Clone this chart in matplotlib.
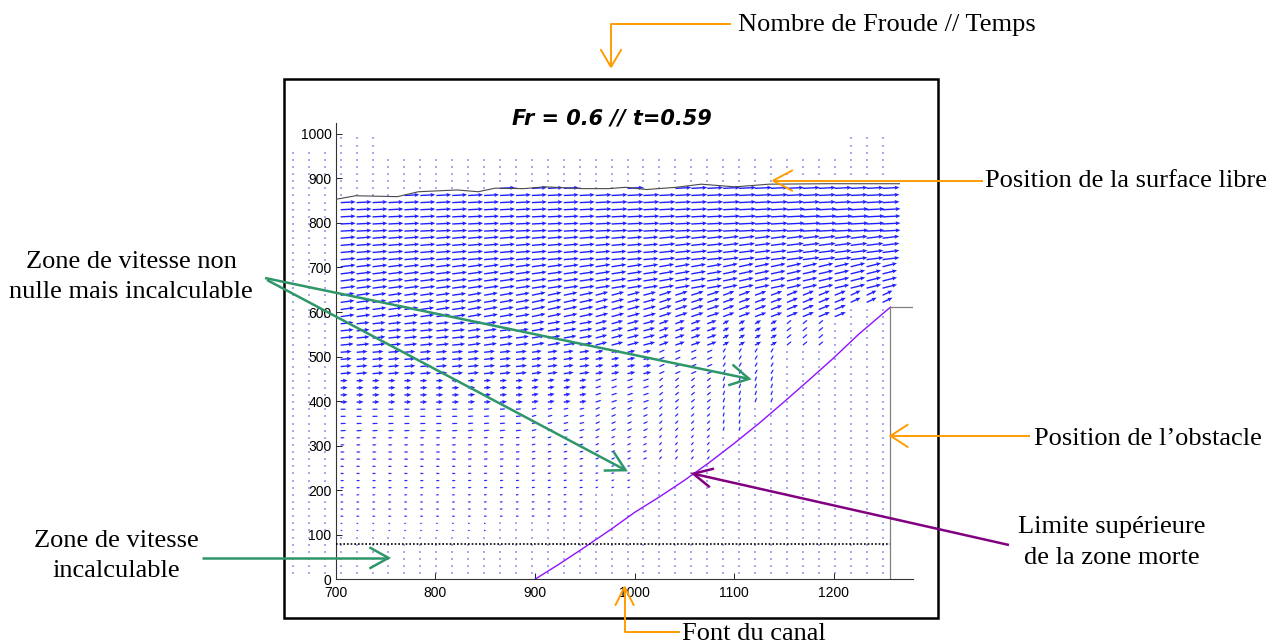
import numpy as np
import matplotlib.pyplot as plt

W, H = 1280, 644

# measurement grid (PIV points)
grid_x0, grid_dx, n_cols = 705.0, 16.0, 35
grid_y0, grid_dy, n_rows = 13.6, 16.0, 62
extra_dot_cols = [657.0, 673.0, 689.0]

# free surface position
surf_x = [700, 720, 762, 783, 822, 843, 860, 889, 910, 948, 974, 991, 1012,
          1042, 1067, 1101, 1135, 1194, 1266]
surf_y = [853, 861, 859, 870, 874, 870, 878, 877, 881, 877, 877, 880, 875,
          880, 887, 881, 887, 888, 888]

# upper limit of the dead zone
dead_x = [900, 925, 950, 975, 1000, 1025, 1050, 1075, 1100, 1125, 1150, 1175, 1200, 1225, 1257]
dead_y = [0, 35, 72, 110, 150, 185, 222, 262, 305, 350, 398, 447, 497, 550, 611]

obstacle_x = 1257
obstacle_top = 611
bottom_limit = 80
field_ymin = 100

# arrow length (px) and angle (deg) per block of 4x4 grid points, bottom to top
block_len = [
    [0, 0, 0, 0, 0, 0, 0, 0, 0],
    [2, 2, 2, 0, 0, 0, 0, 0, 0],
    [3, 3, 3, 3, 0, 0, 0, 0, 0],
    [3.5, 3.5, 3.5, 3.5, 3, 0, 0, 0, 0],
    [4, 4, 4, 4, 4, 4, 4, 0, 0],
    [5.5, 5.5, 5.5, 5, 5, 4.5, 4.5, 0, 0],
    [7, 7, 7, 7, 6, 5, 5, 0, 0],
    [11, 11, 11, 10, 8, 6, 5, 0, 0],
    [13, 13, 13, 13, 12, 10, 7, 6, 0],
    [14, 14, 14, 14, 13, 13, 12, 12, 11],
    [15, 15, 15, 15, 15, 15, 15, 15, 15],
    [15, 15, 15, 15, 15, 16, 16, 17, 17],
    [15, 15, 15, 15, 16, 16, 17, 18, 18],
    [15, 15, 15, 15, 16, 16, 17, 17, 17],
    [15, 15, 15, 15, 16, 16, 17, 17, 17],
    [0, 0, 0, 0, 0, 0, 0, 0, 0],
]
block_ang = [
    [0, 0, 0, 0, 0, 0, 0, 0, 0],
    [0, 0, 0, 0, 0, 0, 0, 0, 0],
    [0, 0, 3, 5, 0, 0, 0, 0, 0],
    [0, 0, 5, 10, 15, 0, 0, 0, 0],
    [2, 2, 5, 15, 25, 50, 75, 0, 0],
    [2, 2, 5, 15, 25, 45, 75, 0, 0],
    [3, 3, 5, 10, 20, 40, 70, 0, 0],
    [5, 5, 6, 8, 12, 25, 60, 0, 0],
    [6, 6, 8, 10, 15, 20, 30, 40, 0],
    [8, 8, 10, 12, 15, 18, 20, 22, 25],
    [7, 7, 8, 8, 9, 10, 12, 13, 14],
    [5, 5, 5, 5, 5, 6, 7, 7, 7],
    [3, 3, 3, 3, 3, 3, 3, 3, 3],
    [3, 3, 3, 3, 3, 3, 3, 3, 3],
    [3, 3, 3, 3, 3, 3, 3, 3, 3],
    [0, 0, 0, 0, 0, 0, 0, 0, 0],
]
# right end of the computed field for each block row
block_xmax = [0, 850, 960, 1000, 1075, 1110, 1140, 1160, 1185, 1205,
              1250, 1250, 1250, 1250, 1250, 0]

# ---------------------------------------------------------------
fig = plt.figure(figsize=(W / 100, H / 100), dpi=100)
ax = fig.add_axes([335.7 / W, 1 - 579.3 / H, (913.4 - 335.7) / W, (579.3 - 122.7) / H])
ax.set_xlim(700, 1280)
ax.set_ylim(0, 1025)
ax.set_facecolor('none')

xs = grid_x0 + grid_dx * np.arange(n_cols)
ys = grid_y0 + grid_dy * np.arange(n_rows)
X, Y = np.meshgrid(xs, ys)
bi = np.repeat((np.arange(n_rows) // 4)[:, None], n_cols, axis=1)
bj = np.repeat((np.arange(n_cols) // 4)[None, :], n_rows, axis=0)
L = np.array(block_len, float)[bi, bj]
A = np.deg2rad(np.array(block_ang, float)[bi, bj])
xmax = np.array(block_xmax, float)[bi]
surf_at = np.interp(X, surf_x, surf_y)
arrow = (L > 0) & (Y < surf_at) & (Y > field_ymin) & ((X <= xmax) | (Y > obstacle_top))

dots = ~arrow & ~((Y > 950) & (X > 740) & (X < 1215))
X2, Y2 = np.meshgrid(extra_dot_cols, ys)
d2 = Y2 < 960
ax.scatter(np.r_[X[dots], X2[d2]], np.r_[Y[dots], Y2[d2]], s=1.2, marker='s',
           color='#a9a9f2', linewidths=0, clip_on=False, zorder=1)

U = L * np.cos(A)
V = L * np.sin(A)
big = arrow & (L >= 7)
small = arrow & (L < 7)
ax.quiver(X[big], Y[big], U[big], V[big], angles='uv', scale_units='x',
          scale=1, width=0.0024, headwidth=3, headlength=3.5, headaxislength=3,
          color='#2020ff', zorder=2)
ax.quiver(X[small], Y[small], U[small], V[small], angles='uv', scale_units='x',
          scale=1, width=0.0022, headwidth=1, headlength=1, headaxislength=1,
          minlength=0.5, color='#2a2aff', zorder=2)

ax.plot(surf_x, surf_y, color='#4a4a4a', lw=0.8, zorder=3)
ax.plot(dead_x, dead_y, color='#9010ff', lw=1.0, zorder=3)
ax.plot([700, obstacle_x], [bottom_limit, bottom_limit], color='black', lw=1.2,
        ls=(0, (1, 1.2)), zorder=3)
ax.plot([obstacle_x, obstacle_x, 1280], [0, obstacle_top, obstacle_top],
        color='#808080', lw=0.9, zorder=3)

for s in ['top', 'right']:
    ax.spines[s].set_visible(False)
for s in ['left', 'bottom']:
    ax.spines[s].set_color('#333333')
    ax.spines[s].set_linewidth(0.8)
ax.set_xticks(np.arange(700, 1201, 100))
ax.set_yticks(np.arange(0, 1001, 100))
ax.tick_params(direction='in', length=4, width=0.6, labelsize=10)
ax.tick_params(axis='x', pad=5)
ax.tick_params(axis='y', pad=3)
for lab in ax.get_xticklabels() + ax.get_yticklabels():
    lab.set_family(['Liberation Sans Narrow', 'Liberation Sans'])

# overlay in pixel coordinates for frame and annotations
ov = fig.add_axes([0, 0, 1, 1], zorder=5)
ov.set_xlim(0, W)
ov.set_ylim(H, 0)
ov.axis('off')
ov.add_patch(plt.Rectangle((284, 79), 654, 539, fill=False, lw=1.8, ec='black'))


def to_px(x, y):
    dx, dy = ax.transData.transform((x, y))
    return dx, H - dy


def draw_arrow(pts, color, lw, hl=18, hw=10):
    pts = np.asarray(pts, float)
    ov.plot(pts[:, 0], pts[:, 1], color=color, lw=lw, solid_capstyle='butt')
    tip = pts[-1]
    d = tip - pts[-2]
    d = d / np.hypot(*d)
    n = np.array([-d[1], d[0]])
    head = np.array([tip - hl * d + hw * n, tip, tip - hl * d - hw * n])
    ov.plot(head[:, 0], head[:, 1], color=color, lw=lw, solid_joinstyle='miter')


serif = 'Liberation Serif'
fs = 19
orange, green, purple = '#ff9c00', '#2f9669', '#800080'

ov.text(612, 124, 'Fr = 0.6 // t=0.59', ha='center', va='baseline', fontsize=15,
        fontweight='bold', fontstyle='italic', family='DejaVu Sans')

# Froude / time
ov.text(738, 31, 'Nombre de Froude // Temps', family=serif, fontsize=fs, va='baseline')
draw_arrow([(731, 24), (611, 24), (611, 67)], orange, 1.4, hl=17, hw=10)

# free surface
ov.text(985, 187, 'Position de la surface libre', family=serif, fontsize=fs, va='baseline')
tx, ty = to_px(1139, 895)
draw_arrow([(983, ty), (tx, ty)], orange, 1.4, hl=19, hw=10)

# obstacle
ov.text(1034, 445, 'Position de l\u2019obstacle', family=serif, fontsize=fs, va='baseline')
tx, ty = to_px(obstacle_x, 322)
draw_arrow([(1030, ty), (tx, ty)], orange, 1.4, hl=17, hw=11)

# dead zone limit
ov.text(1112, 533, 'Limite sup\u00e9rieure', family=serif, fontsize=fs, ha='center', va='baseline')
ov.text(1112, 564, 'de la zone morte', family=serif, fontsize=fs, ha='center', va='baseline')
draw_arrow([(1009, 545), to_px(1059, 237)], purple, 1.8, hl=18, hw=9)

# non zero but not computable
ov.text(131, 268, 'Zone de vitesse non', family=serif, fontsize=fs, ha='center', va='baseline')
ov.text(131, 298, 'nulle mais incalculable', family=serif, fontsize=fs, ha='center', va='baseline')
draw_arrow([(265, 278), to_px(1115, 450)], green, 1.8, hl=18, hw=10)
draw_arrow([(267, 280), to_px(991, 245)], green, 1.8, hl=18, hw=10)

# not computable
ov.text(116, 547, 'Zone de vitesse', family=serif, fontsize=fs, ha='center', va='baseline')
ov.text(116, 577, 'incalculable', family=serif, fontsize=fs, ha='center', va='baseline')
tx, ty = to_px(753, 48)
draw_arrow([(202, ty), (tx, ty)], green, 1.8, hl=18, hw=10)

# channel bottom
ov.text(682, 640, 'Font du canal', family=serif, fontsize=fs, va='baseline')
tx, ty = to_px(990, -17)
draw_arrow([(680, 632), (tx, 632), (tx, ty)], orange, 1.4, hl=18, hw=9)

fig.savefig('out.png', dpi=100)
